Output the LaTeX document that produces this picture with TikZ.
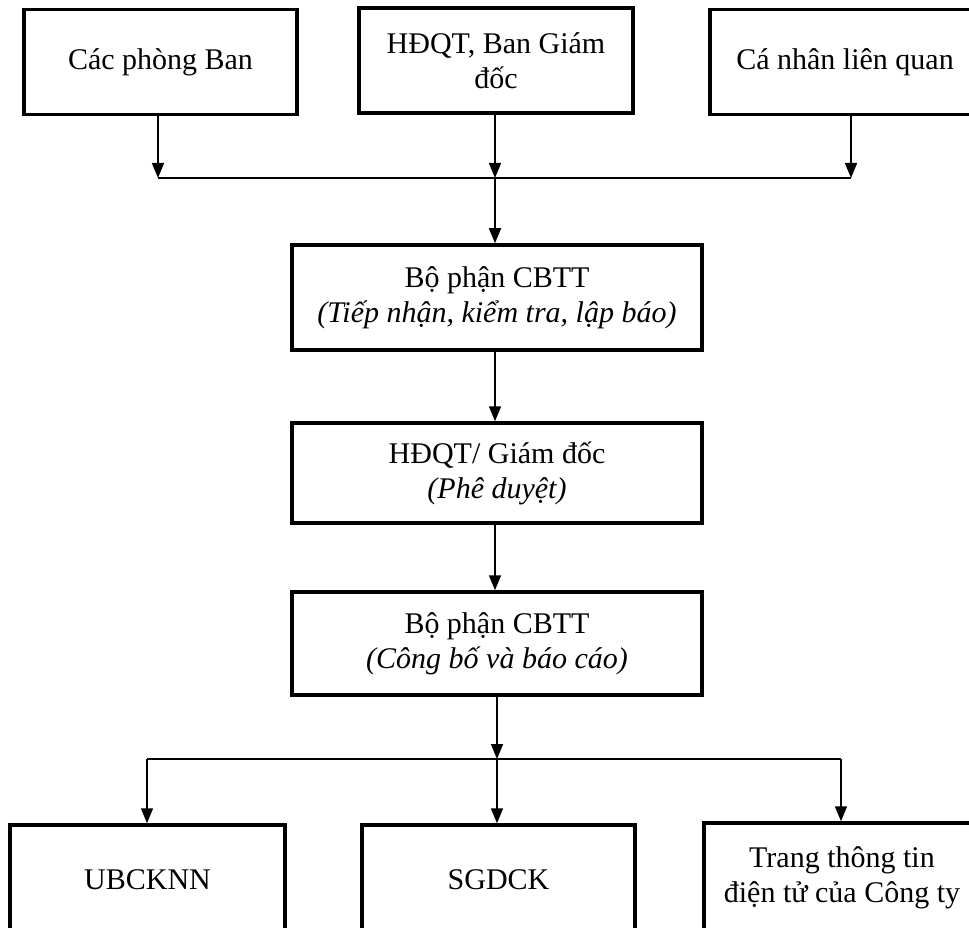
\documentclass[tikz,border=0pt]{standalone}
\usepackage{fontspec}
\setmainfont{Liberation Serif}
\usetikzlibrary{arrows.meta}

\begin{document}
\begin{tikzpicture}[x=1pt, y=-1pt,
        box/.style={draw, line width=3.5pt, inner sep=0pt, align=center,
            font=\fontsize{30}{35}\selectfont},
        arr/.style={line width=1.6pt, -{Triangle[length=15pt,width=12pt]}},
        link/.style={line width=1.6pt}]

        \useasboundingbox (0, 0) rectangle (969, 928);

        % source row
        \node[box, minimum width=273pt, minimum height=105pt] (pb) at (160.5, 62) {Các phòng Ban};
        \node[box, minimum width=274pt, minimum height=105pt] (hd) at (496, 60.5) {HĐQT, Ban Giám\\đốc};
        \node[box, minimum width=270pt, minimum height=105pt] (cn) at (845, 62) {Cá nhân liên quan};

        \coordinate (jl) at (158, 178);
        \coordinate (jc) at (495, 178);
        \coordinate (jr) at (851, 178);
        \draw[arr] (pb.south -| jl) -- (jl);
        \draw[arr] (hd.south -| jc) -- (jc);
        \draw[arr] (cn.south -| jr) -- (jr);
        \draw[link] (jl) -- (jr);

        % middle column
        \node[box, minimum width=410pt, minimum height=105pt] (tn) at (497, 297.5)
            {Bộ phận CBTT\\\textit{(Tiếp nhận, kiểm tra, lập báo)}};
        \node[box, minimum width=410pt, minimum height=100pt] (pd) at (497, 473)
            {HĐQT/ Giám đốc\\\textit{(Phê duyệt)}};
        \node[box, minimum width=410pt, minimum height=103pt] (cb) at (497, 643.5)
            {Bộ phận CBTT\\\textit{(Công bố và báo cáo)}};

        \draw[arr] (jc) -- (jc |- tn.north);
        \draw[arr] (tn.south -| jc) -- (jc |- pd.north);
        \draw[arr] (pd.south -| jc) -- (jc |- cb.north);

        % target row
        \coordinate (kl) at (147, 759);
        \coordinate (kc) at (497, 759);
        \coordinate (kr) at (841, 759);
        \draw[arr] (cb.south -| kc) -- (kc);
        \draw[link] (kl) -- (kr);

        \node[box, minimum width=275pt, minimum height=110pt] (ub) at (147.5, 880) {UBCKNN};
        \node[box, minimum width=273pt, minimum height=110pt] (sg) at (498.5, 880) {SGDCK};
        \node[box, minimum width=276pt, minimum height=110pt] (tt) at (842, 878)
            {Trang thông tin\\điện tử của Công ty};

        \draw[arr] (kl) -- (kl |- ub.north);
        \draw[arr] (kc) -- (kc |- sg.north);
        \draw[arr] (kr) -- (kr |- tt.north);
    \end{tikzpicture}
\end{document}
